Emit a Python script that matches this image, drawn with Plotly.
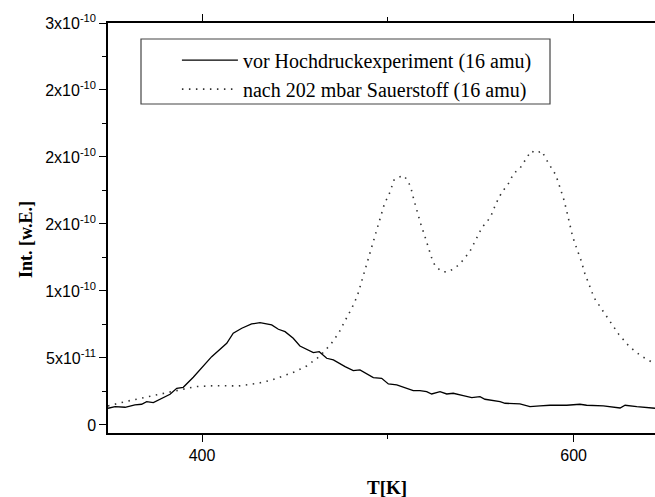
import plotly.graph_objects as go

# --- data ---
t_vor = [349.4, 353.2, 358.6, 363.9, 367.5, 370.2, 373.8, 378.3, 382.8, 386.4, 389.9, 395.3, 399.8,
         405.2, 413.3, 416.8, 421.4, 426.7, 431.2, 435.7, 437.5, 441.1, 444.7, 449.1, 452.7, 459.9,
         463.1, 467.1, 470.7, 477.0, 481.4, 485.0, 492.2, 496.7, 500.3, 504.8, 510.2, 513.7, 517.3,
         520.9, 523.6, 528.1, 531.7, 535.2, 540.6, 545.2, 549.6, 552.3, 560.4, 563.1, 571.1, 576.5,
         581.9, 587.3, 596.3, 603.4, 607.0, 616.0, 625.0, 627.7, 634.0, 643.8]
i_vor = [1.246e-11, 1.366e-11, 1.321e-11, 1.493e-11, 1.545e-11, 1.739e-11, 1.664e-11, 1.993e-11, 2.291e-11,
         2.739e-11, 2.813e-11, 3.56e-11, 4.231e-11, 5.097e-11, 6.097e-11, 6.843e-11, 7.217e-11, 7.537e-11,
         7.635e-11, 7.515e-11, 7.463e-11, 7.142e-11, 6.963e-11, 6.47e-11, 5.896e-11, 5.396e-11, 5.47e-11,
         4.978e-11, 4.851e-11, 4.351e-11, 4.052e-11, 4.104e-11, 3.53e-11, 3.485e-11, 3.06e-11, 2.985e-11,
         2.739e-11, 2.56e-11, 2.56e-11, 2.485e-11, 2.313e-11, 2.485e-11, 2.313e-11, 2.366e-11, 2.187e-11,
         2.037e-11, 2.112e-11, 1.918e-11, 1.739e-11, 1.619e-11, 1.567e-11, 1.366e-11, 1.418e-11, 1.47e-11,
         1.47e-11, 1.545e-11, 1.47e-11, 1.418e-11, 1.269e-11, 1.47e-11, 1.366e-11, 1.246e-11]

t_nach = [349.4, 358.6, 372.9, 385.5, 396.2, 407.0, 419.5, 430.3, 437.5, 443.8, 450.1, 456.3, 463.1,
          469.3, 473.7, 477.0, 480.6, 483.6, 486.5, 489.2, 491.9, 494.9, 498.1, 501.2, 503.3, 505.6,
          508.7, 510.7, 512.3, 513.9, 515.7, 517.7, 519.9, 522.0, 524.0, 525.6, 529.2, 532.2, 535.6,
          538.9, 541.5, 544.1, 547.5, 550.7, 553.4, 555.5, 558.2, 561.5, 564.5, 567.8, 571.0, 574.8,
          577.1, 580.1, 582.8, 586.4, 590.4, 592.7, 594.8, 596.4, 598.1, 599.5, 601.7, 604.1, 606.0,
          608.7, 611.0, 615.4, 619.8, 624.3, 630.0, 636.3, 642.7, 643.8]
i_nach = [1.418e-11, 1.739e-11, 2.164e-11, 2.56e-11, 2.858e-11, 2.933e-11, 2.911e-11, 3.112e-11, 3.358e-11,
          3.657e-11, 3.978e-11, 4.403e-11, 5.097e-11, 6.023e-11, 6.888e-11, 7.784e-11, 8.709e-11, 9.627e-11,
          1.099e-10, 1.237e-10, 1.373e-10, 1.51e-10, 1.647e-10, 1.739e-10, 1.828e-10, 1.849e-10, 1.861e-10,
          1.821e-10, 1.778e-10, 1.687e-10, 1.595e-10, 1.502e-10, 1.41e-10, 1.321e-10, 1.229e-10, 1.184e-10,
          1.144e-10, 1.142e-10, 1.166e-10, 1.204e-10, 1.249e-10, 1.293e-10, 1.386e-10, 1.475e-10, 1.517e-10,
          1.56e-10, 1.652e-10, 1.741e-10, 1.791e-10, 1.878e-10, 1.913e-10, 1.998e-10, 2.045e-10, 2.028e-10,
          2.045e-10, 1.955e-10, 1.866e-10, 1.771e-10, 1.679e-10, 1.59e-10, 1.5e-10, 1.405e-10, 1.316e-10,
          1.224e-10, 1.132e-10, 1.04e-10, 9.5e-11, 8.582e-11, 7.664e-11, 6.769e-11, 5.843e-11, 5.149e-11,
          4.649e-11, 4.6e-11]

y_tickvals = [0, 5e-11, 1e-10, 1.5e-10, 2e-10, 2.5e-10, 3e-10]
y_ticktext = ["0", "5x10<sup>-11</sup>", "1x10<sup>-10</sup>", "2x10<sup>-10</sup>",
              "2x10<sup>-10</sup>", "2x10<sup>-10</sup>", "3x10<sup>-10</sup>"]
legend_names = ["vor Hochdruckexperiment (16 amu)", "nach 202 mbar Sauerstoff (16 amu)"]

fig = go.Figure()
fig.add_trace(go.Scatter(x=t_vor, y=i_vor, mode="lines", name=legend_names[0],
                         line=dict(color="black", width=1.3)))
fig.add_trace(go.Scatter(x=t_nach, y=i_nach, mode="lines", name=legend_names[1],
                         line=dict(color="#333333", width=1.6, dash="1.5px,5.5px")))

PW, PH, T0, B0 = 547, 410, 23, 433  # plot area in pixels (for placing text/box)

fig.update_layout(
    width=655, height=497,
    margin=dict(l=108, r=0, t=23, b=64),
    plot_bgcolor="white", paper_bgcolor="white",
    showlegend=True,
    legend=dict(x=0.126, y=0.957, xanchor="left", yanchor="top",
                font=dict(family="Liberation Serif", size=20, color="black"),
                bgcolor="rgba(0,0,0,0)", borderwidth=0, itemwidth=56,
                tracegroupgap=0),
    shapes=[dict(type="rect", xref="paper", yref="paper",
                 x0=(141 - 108) / PW, x1=(550 - 108) / PW,
                 y0=(B0 - 104) / PH, y1=(B0 - 39) / PH,
                 line=dict(color="#444444", width=1.2))],
    annotations=[
        dict(text="<b>T[K]</b>", xref="paper", yref="paper", x=(387 - 108) / PW, y=(B0 - 487) / PH,
             showarrow=False, font=dict(family="Liberation Serif", size=19, color="black"),
             xanchor="center", yanchor="middle"),
        dict(text="<b>Int. [w.E.]</b>", xref="paper", yref="paper", x=(26 - 108) / PW, y=(B0 - 240) / PH,
             showarrow=False, textangle=-90, font=dict(family="Liberation Serif", size=18, color="black"),
             xanchor="center", yanchor="middle"),
    ],
)

fig.update_xaxes(range=[349.4, 643.8], showgrid=False, zeroline=False,
                 showline=True, linecolor="black", linewidth=1.5, mirror="ticks",
                 ticks="outside", ticklen=7, tickwidth=1.2, tickcolor="black",
                 tick0=400, dtick=200,
                 minor=dict(tick0=400, dtick=100, ticks="outside", ticklen=4, tickwidth=1.2, tickcolor="black"),
                 tickfont=dict(family="Liberation Sans", size=16, color="black"))
fig.update_yaxes(range=[-6e-12, 3e-10], showgrid=False, zeroline=False,
                 showline=True, linecolor="black", linewidth=1.5,
                 ticks="outside", ticklen=7, tickwidth=1.2, tickcolor="black",
                 tickmode="array", tickvals=y_tickvals, ticktext=y_ticktext,
                 minor=dict(tick0=0, dtick=2.5e-11, ticks="outside", ticklen=4, tickwidth=1.2, tickcolor="black"),
                 tickfont=dict(family="Liberation Sans", size=16, color="black"))

fig.write_html("out.html")
